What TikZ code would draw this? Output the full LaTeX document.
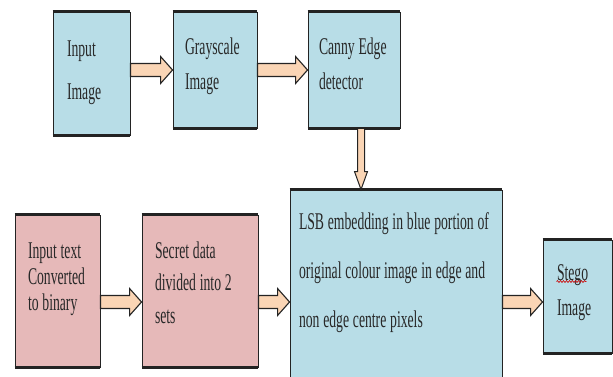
\documentclass[tikz,border=0pt]{standalone}
\usepackage{fontspec}
\newfontfamily\boxfont[FakeStretch=0.57]{Liberation Serif}
\usetikzlibrary{calc}
\usetikzlibrary{decorations.pathmorphing}
\definecolor{boxblue}{RGB}{184,221,231}
\definecolor{boxpink}{RGB}{230,185,185}
\definecolor{arrowfill}{RGB}{250,213,181}
\definecolor{linedark}{RGB}{35,35,35}
\definecolor{inkdark}{RGB}{40,40,40}
\newcommand\boxtype[1]{\boxfont\fontsize{24}{#1}\selectfont\spaceskip=3.8pt\relax}

\tikzset{
    block/.style={draw=linedark, line width=0.9pt, align=flush left, text=inkdark,
        inner ysep=0pt, text height=16pt},
    blue block/.style={block, fill=boxblue},
    pink block/.style={block, fill=boxpink},
    lines/.style={font=\boxtype{#1}},
    rim/.style={draw=linedark, line width=2.2pt},
    fat/.style={draw=linedark, fill=arrowfill, line width=1.1pt, line join=miter,
        to path={let \p1=(\tikztostart), \p2=(\tikztotarget) in
            (\x1,\y1+6.5pt) -- (\x2-12pt,\y1+6.5pt) -- (\x2-12pt,\y1+13.5pt)
            -- (\x2,\y1) -- (\x2-12pt,\y1-13.5pt) -- (\x2-12pt,\y1-6.5pt)
            -- (\x1,\y1-6.5pt) -- cycle}},
    fat down/.style={draw=linedark, fill=arrowfill, line width=1pt, line join=miter,
        to path={let \p1=(\tikztostart), \p2=(\tikztotarget) in
            (\x1-3.5pt,\y1) -- (\x1-3.5pt,\y2+18pt) -- (\x1-6.5pt,\y2+18pt)
            -- (\x1,\y2) -- (\x1+6.5pt,\y2+18pt) -- (\x1+3.5pt,\y2+18pt)
            -- (\x1+3.5pt,\y1) -- cycle}},
    squiggle/.style={draw=red!80!black, line width=0.6pt, decorate,
        decoration={snake, amplitude=0.9pt, segment length=3pt}}
}

\begin{document}
\begin{tikzpicture}[x=1pt,y=-1pt]
\useasboundingbox (0,0) rectangle (613,377);

% top row
\node[blue block, lines=43pt, inner xsep=14pt, text width=49pt, minimum height=123pt, text depth=49pt] (img) at (91.5,73.5) {Input\\Image};
\node[blue block, lines=35pt, inner xsep=12pt, text width=60pt, minimum height=116pt, text depth=46pt] (gray) at (215,70) {Grayscale\\Image};
\node[blue block, lines=35pt, inner xsep=11pt, text width=70pt, minimum height=116pt, text depth=46pt] (canny) at (354,70) {Canny Edge\\detector};

% bottom row
\node[pink block, lines=26pt, inner xsep=13pt, text width=59pt, minimum height=152pt, text depth=82pt] (txt) at (57.5,291) {Input text\\Converted\\to binary};
\node[pink block, lines=32.5pt, inner xsep=13pt, text width=90pt, minimum height=152pt, text depth=82pt] (secret) at (200,291) {Secret data\\divided into 2\\sets};
\node[blue block, lines=49pt, inner xsep=9pt, text width=194pt, minimum height=190pt, text depth=128pt] (lsb) at (396,285) {LSB embedding in blue portion of\\original colour image in edge and\\non edge centre pixels};
\node[blue block, lines=35pt, inner xsep=14pt, text width=41pt, minimum height=113pt, text depth=49pt] (stego) at (577.5,296.5) {Stego\\Image};

\foreach \b in {img,gray,canny,txt,secret,lsb,stego}
    \draw[rim] (\b.north west) -- (\b.north east) (\b.south west) -- (\b.south east);

% arrows
\coordinate (toprow) at (gray.west);
\coordinate (row) at ([yshift=-11pt]txt.east);
\draw[fat] (img.east |- toprow) to (toprow);
\draw[fat] (gray.east) to (canny.west);
\draw[fat down] ([xshift=7pt]canny.south) to ([xshift=7pt]canny.south |- lsb.north);
\draw[fat] (row) to (secret.west |- row);
\draw[fat] (secret.east |- row) to (lsb.west |- row);
\draw[fat] (lsb.east |- row) to (stego.west |- row);

\draw[squiggle] ([xshift=14pt,yshift=-42pt]stego.north west) -- ++(30pt,0);
\end{tikzpicture}
\end{document}
